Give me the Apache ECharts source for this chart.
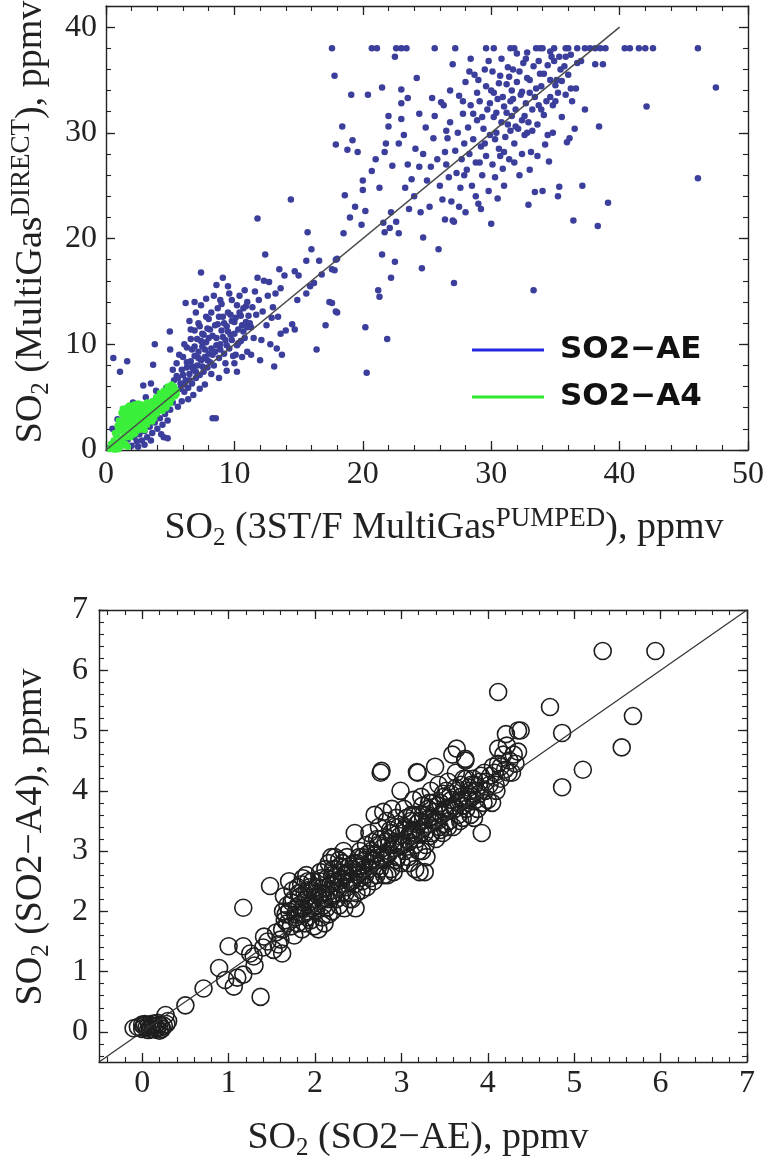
<!DOCTYPE html>
<html><head><meta charset="utf-8">
<script src="https://cdn.jsdelivr.net/npm/echarts@6/dist/echarts.min.js"></script>
<style>html,body{margin:0;padding:0;background:#fff}#c{width:767px;height:1160px}</style>
</head><body><div id="c"></div>
<script>
// ---------- tick labels ----------
const topXTicks = [0, 10, 20, 30, 40, 50];
const topYTicks = [0, 10, 20, 30, 40];
const botTicks = [0, 1, 2, 3, 4, 5, 6, 7];
const legendNames = ['SO2−AE', 'SO2−A4'];

// ---------- top panel: SO2 (MultiGas DIRECT) vs SO2 (3ST/F MultiGas PUMPED) ----------
const blueAE = [
[0.3,0.2],[0.5,0.4],[0.8,0.3],[1.0,0.6],[1.2,0.9],[1.5,0.5],[1.7,1.0],[2.0,0.4],[2.2,1.2],[2.4,0.8],[2.6,1.5],[2.8,0.9],[3.0,1.8],[3.2,1.2],[3.4,2.2],[3.6,1.6],[3.8,2.6],[4.0,2.0],[4.2,3.0],[4.4,2.4],[4.6,3.4],[4.8,2.8],[5.0,3.8],[3.0,0.5],[3.5,0.9],[2.5,0.3],[4.5,1.2],[4.8,1.1],[1.2,2.2],[0.8,1.5],[0.5,2.0],[0.9,2.9],[1.3,3.4],[1.8,3.9],[2.1,4.5],[2.5,3.5],[3.1,5.0],[3.5,6.3],[3.9,5.6],[4.2,5.2],[4.5,4.3],[4.7,5.9],[2.9,6.1],[0.57,8.7],[1.65,8.4],[1.09,7.4],[3.8,10.0],[3.67,8.06],[4.3,1.5],[3.9,3.3],[4.1,4.6],[4.9,4.9],[5.2,4.5],[5.4,5.3],[5.6,4.1],[5.8,5.8],[5.3,6.6],[5.5,7.0],[5.1,6.0],[4.97,11.2],[5.0,9.5],
[5.8,6.3],[6.0,7.1],[6.1,5.5],[6.2,6.6],[6.3,7.8],[6.4,5.9],[6.5,7.2],[6.6,8.4],[6.7,6.3],[6.8,7.6],[6.9,8.9],[7.0,6.8],[7.1,8.0],[7.2,9.3],[7.3,7.1],[7.4,8.5],[7.5,9.8],[7.6,7.4],[7.7,8.8],[7.8,10.2],[7.9,7.8],[8.0,9.1],[6.0,8.8],[6.3,9.7],[6.6,10.5],[6.9,11.3],[7.2,12.0],[7.5,11.0],[7.8,12.6],[6.5,12.2],[7.0,13.0],[6.2,13.9],[7.4,16.8],[6.8,5.2],[7.3,5.8],[7.7,6.2],[6.4,4.8],[5.9,4.6],[7.1,10.5],[7.6,10.9],[6.7,9.5],[7.9,11.5],[8.0,12.4],[5.5,8.2],[5.7,9.0],[6.1,10.0],[5.2,7.6],[7.4,13.7],[7.8,14.3],[6.9,14.0],
[5.6,6.8],[5.9,7.6],[6.1,6.2],[6.3,8.3],[6.5,6.6],[6.7,7.9],[6.9,9.8],[7.0,7.4],[7.2,8.7],[7.4,10.3],[7.5,7.9],[7.7,9.5],[7.9,8.5],[8.0,10.6],[8.1,11.4],[8.3,9.0],[8.5,11.8],[8.6,9.9],[8.8,12.6],[8.9,9.5],[9.1,10.7],[9.2,12.0],[9.4,9.9],[9.5,11.2],[9.7,12.8],[9.8,10.4],[10.0,12.1],[10.2,13.7],[10.3,10.1],[10.5,12.7],[10.7,11.2],[10.9,13.6],[11.1,12.7],[11.3,11.6],[6.6,11.4],[7.3,11.7],[8.2,13.0],[8.9,14.2],[9.5,15.5],[10.1,9.0],
[8.1,8.3],[8.2,9.6],[8.3,10.8],[8.4,8.0],[8.5,9.3],[8.6,10.6],[8.7,11.9],[8.8,8.7],[8.9,10.0],[9.0,11.3],[9.1,12.6],[9.2,9.1],[9.3,10.4],[9.4,11.7],[9.5,13.0],[9.6,9.6],[9.7,10.9],[9.8,12.2],[9.9,8.9],[10.0,11.0],[10.1,12.5],[10.2,9.9],[10.3,11.4],[10.4,13.0],[10.5,10.3],[10.6,11.8],[10.7,13.4],[10.8,10.6],[10.9,12.1],[11.0,14.0],[8.3,3.0],[8.55,3.0],[8.4,14.6],[8.6,15.6],[9.1,16.3],[9.6,14.8],[8.8,6.8],[9.4,7.5],[10.0,8.2],[10.6,8.8],[11.0,9.3],[8.2,7.2],[9.0,13.8],[9.8,14.2],[10.4,14.6],[11.0,11.6],[10.8,15.1],[9.3,8.2],[8.7,13.4],[10.2,7.4],
[11.2,12.0],[11.4,13.5],[11.5,10.6],[11.7,12.8],[11.8,16.3],[11.9,14.2],[12.1,10.4],[12.2,13.1],[12.4,18.5],[12.5,11.8],[12.6,14.6],[12.7,15.9],[12.9,12.5],[13.1,7.9],[13.2,14.8],[13.3,9.6],[13.5,17.1],[13.6,11.0],[13.7,9.0],[13.6,15.3],[13.9,16.5],[14.0,11.3],[11.8,21.9],[11.3,9.0],[12.0,8.5],[12.8,10.0],[13.0,13.5],[11.6,15.0],[12.3,16.0],[13.4,12.6],
[14.4,23.7],[14.5,11.9],[14.7,11.4],[14.7,16.9],[14.9,14.2],[15.6,17.9],[15.7,20.6],[15.6,14.8],[15.9,15.5],[16.2,15.8],[16.4,9.5],[16.6,17.9],[16.8,16.6],[17.1,11.8],[17.4,14.0],[17.6,17.1],[17.9,18.0],[17.9,13.1],[17.8,17.0],[17.6,13.9],[18.0,13.0],[18.0,18.1],[17.6,38.0],[17.8,35.4],[18.4,30.6],[17.9,28.9],[15.0,16.5],[16.0,19.0],
[18.6,24.1],[18.8,28.4],[19.1,33.6],[19.2,29.3],[19.4,23.0],[19.6,28.2],[19.9,21.3],[20.0,24.6],[20.2,22.6],[20.2,11.6],[20.3,7.3],[20.4,33.6],[20.7,26.4],[20.7,38.0],[21.1,38.0],[21.2,15.1],[21.3,24.8],[21.3,14.5],[21.5,34.3],[21.5,18.5],[21.7,20.6],[21.7,28.2],[21.9,10.5],[22.0,31.6],[22.0,30.6],[22.1,21.0],[22.2,22.5],[22.2,16.3],[22.3,26.9],[21.6,21.5],[20.0,25.5],[19.0,22.0],[18.5,20.5],[21.0,27.5],[21.8,29.0],
[22.5,37.2],[22.5,17.8],[22.6,38.0],[22.6,21.6],[22.8,20.5],[22.8,29.0],[23.0,34.1],[23.0,32.8],[23.0,31.3],[23.0,38.0],[23.2,29.8],[23.3,24.8],[23.4,38.0],[23.5,33.3],[23.6,22.8],[24.1,28.5],[24.2,35.2],[24.4,31.8],[24.4,26.8],[24.6,17.2],[24.7,28.0],[24.7,20.1],[24.5,22.5],[25.2,23.0],[25.3,26.8],[25.4,33.3],[25.6,31.6],[25.6,38.0],[25.9,19.0],[26.1,32.9],[26.2,23.7],[25.0,25.5],[25.8,27.5],[24.0,24.0],[23.8,25.6],[25.5,29.5],[24.9,30.5],[26.0,25.0],[23.5,27.0],
[26.3,32.6],[26.4,21.8],[26.5,27.0],[26.6,29.5],[26.7,25.8],[26.8,31.0],[26.9,23.5],[27.0,21.7],[27.1,15.8],[27.1,21.6],[27.2,38.0],[27.2,28.3],[27.3,26.2],[27.4,30.0],[27.5,33.5],[27.6,24.8],[27.7,27.5],[27.8,31.8],[27.9,29.0],[28.0,22.5],[28.0,34.8],[28.1,26.5],[28.2,30.5],[28.3,28.0],[28.4,32.6],[28.5,25.0],[28.6,29.4],[28.7,35.5],[28.8,27.2],[28.9,31.2],[29.0,23.3],[29.1,33.0],[29.2,28.7],[29.2,22.8],[29.3,26.0],[29.4,30.4],[29.5,36.0],[29.6,38.0],[29.6,27.8],[29.7,32.2],[29.8,24.5],[29.9,29.8],[30.0,21.4],[30.0,34.0],[30.2,38.0],[30.1,27.0],[30.2,31.5],[30.3,25.8],[27.0,36.5],[28.4,37.0],[26.8,34.0],[29.0,35.0],[27.5,23.0],[28.8,24.0],[29.8,36.8],[26.5,30.2],
[27.8,33.0],[28.3,35.8],[28.9,33.8],[29.3,31.5],[29.6,34.4],[29.9,32.8],[30.1,35.8],[30.4,31.9],[30.6,34.7],[30.9,33.4],[31.2,31.9],[31.4,35.3],[31.7,33.2],[31.9,30.6],[32.2,35.8],[32.4,33.9],[32.6,31.6],[32.8,37.6],[33.0,35.0],[33.2,30.2],[33.4,33.4],[33.7,36.8],[33.9,34.4],[34.1,31.7],[34.4,36.4],[34.6,35.0],[34.9,36.8],[35.2,33.8],[35.5,34.9],[35.8,37.2],[29.5,29.0],[30.3,29.4],[31.0,28.2],[31.5,30.2],[32.8,30.0],[28.6,31.8],[29.1,27.2],[30.7,27.8],[27.9,26.0],[26.4,28.2],
[30.4,30.0],[30.5,33.2],[30.6,28.5],[30.7,35.4],[30.8,31.0],[30.9,26.6],[31.0,32.5],[31.1,29.6],[31.2,34.6],[31.3,30.8],[31.4,27.5],[31.5,38.0],[31.5,33.0],[31.6,31.6],[31.7,36.0],[31.8,38.0],[31.8,29.0],[31.9,32.2],[32.0,34.8],[32.1,30.4],[32.2,26.0],[32.3,33.6],[32.4,31.2],[32.5,36.6],[32.6,29.8],[32.7,32.8],[32.8,35.2],[32.9,23.2],[32.9,31.0],[33.0,33.8],[33.1,28.2],[33.2,32.2],[33.3,15.1],[33.3,36.3],[33.4,24.4],[33.5,38.0],[33.5,34.2],[33.6,30.8],[33.7,32.6],[33.8,38.0],[33.8,35.6],[33.9,32.2],[34.0,38.0],[34.0,24.5],[34.1,35.6],[34.2,28.9],[34.3,33.0],[34.4,29.8],[30.5,23.8],[31.0,25.0],[31.8,27.2],[32.4,28.0],[30.8,37.0],[31.3,36.2],[32.0,37.5],[32.7,37.0],[33.0,26.5],[33.6,27.8],[30.2,33.8],[31.6,34.0],
[34.5,27.3],[34.6,37.7],[34.6,33.4],[34.7,37.2],[34.8,32.6],[34.9,38.0],[35.0,34.5],[35.0,33.0],[35.1,35.0],[35.2,24.0],[35.3,24.9],[35.3,37.2],[35.7,36.3],[35.8,38.0],[35.8,33.6],[35.9,29.1],[36.0,38.0],[36.1,29.5],[36.2,37.4],[36.2,34.2],[36.4,21.7],[36.5,30.4],[36.6,34.2],[36.7,38.0],[36.7,36.6],[37.1,25.0],[37.3,38.0],[37.3,32.2],[37.7,38.0],[38.1,38.0],[38.1,36.5],[38.3,21.2],[38.4,30.6],[38.5,38.0],[38.7,36.5],[38.9,38.0],[39.1,23.4],[36.0,35.5],[35.5,31.5],[34.8,30.0],[35.4,36.0],[36.3,33.0],[37.0,36.8],
[40.4,38.0],[40.8,38.0],[41.5,38.0],[42.0,38.0],[42.1,32.5],[42.6,38.0],[46.1,38.0],[46.1,25.7],[47.5,34.3]
];

const greenA4 = [
[0.3,0.1],[0.5,0.3],[0.6,0.9],[0.7,0.2],[0.8,1.4],[0.9,0.6],[1.0,1.9],[0.4,0.6],[0.9,2.3],[0.7,1.6],[1.0,0.1],[0.6,0.05],[0.8,0.05],
[1.1,1.1],[1.15,2.6],[1.2,1.8],[1.25,0.9],[1.3,2.2],[1.35,3.0],[1.4,1.5],[1.45,2.7],[1.5,2.0],[1.55,3.3],[1.6,1.2],[1.65,2.5],[1.7,3.6],[1.75,1.8],[1.8,2.9],[1.85,3.8],[1.9,2.3],[1.95,3.2],[2.0,1.7],[1.3,0.4],[1.5,0.6],[1.7,0.3],[1.2,3.5],[1.4,3.8],[1.6,4.0],
[2.05,2.8],[2.1,3.6],[2.15,2.1],[2.2,3.1],[2.25,4.0],[2.3,2.5],[2.35,3.4],[2.4,4.2],[2.45,2.9],[2.5,3.7],[2.55,2.2],[2.6,3.2],[2.65,4.1],[2.7,2.7],[2.75,3.5],[2.8,4.3],[2.85,3.0],[2.9,3.9],[2.95,2.5],[3.0,3.4],[2.3,1.6],[2.6,1.9],[2.9,2.1],[2.2,4.3],[2.5,4.4],
[3.05,4.2],[3.1,3.0],[3.15,3.8],[3.2,4.5],[3.25,3.3],[3.3,4.0],[3.35,2.8],[3.4,3.6],[3.45,4.4],[3.5,3.2],[3.55,3.9],[3.6,4.6],[3.65,3.5],[3.7,4.2],[3.75,3.0],[3.8,3.8],[3.85,4.7],[3.9,4.1],[3.95,3.4],[4.0,4.4],[3.2,2.4],[3.6,2.7],[3.0,1.9],
[4.1,4.8],[4.2,3.9],[4.3,4.5],[4.4,5.1],[4.5,4.2],[4.6,4.9],[4.7,5.5],[4.8,4.5],[4.9,5.2],[5.0,5.8],[5.1,4.8],[5.2,5.4],[5.3,6.0],[5.4,5.1],[5.5,5.6],[4.4,3.7],[4.7,4.0],[5.0,4.4],
[1.0,2.8],[1.3,3.9],[1.5,3.6],[1.8,4.2],[2.0,4.0],[2.2,3.8],[2.4,3.6],[1.9,1.2],[2.2,1.5],[2.6,2.4],[2.8,2.0],[3.1,2.6],[3.4,3.1],[3.7,3.3],[4.0,3.6],[4.3,4.0],[4.6,4.4],[4.9,4.7],[5.2,5.0],[5.5,5.3],[4.5,5.6],[4.8,6.0],[5.1,6.2],[3.9,5.0],[4.2,5.4]
];

// ---------- bottom panel: SO2 (SO2-A4) vs SO2 (SO2-AE) ----------
const a4VsAe = [
[-0.1,0.06],[-0.05,0.08],[0,0.05],[0.02,0.1],[0.05,0.07],[0.08,0.12],[0.1,0.05],[0.12,0.09],[0.15,0.1],[0.17,0.06],[0.2,0.12],[0.22,0.08],[0.25,0.1],[0.03,0.13],[0.07,0.03],[0.13,0.14],[0.18,0.15],[0.23,0.05],[0.28,0.13],[0.3,0.18],[0.27,0.28],[0.1,0.1],[0.0,0.12],[0.14,0.04],[0.2,0.02],
[0.5,0.44],[0.71,0.72],[0.89,1.06],[0.96,0.86],[1.06,0.75],[1.17,0.95],[1.0,1.42],[1.17,1.42],[1.29,1.25],[1.37,0.58],[1.17,2.06],[1.48,2.42],[1.41,1.58],[1.52,1.36],[1.62,1.3],[1.6,1.53],[1.3,1.1],[1.1,0.9],[1.25,1.3],[1.45,1.5],[1.55,1.65],[1.4,1.4],
[1.65,1.85],[1.7,2.0],[1.72,1.75],[1.75,2.2],[1.78,1.9],[1.68,2.1],[1.8,2.4],[1.62,1.7],[1.7,2.5],[1.76,1.6],[1.8,1.8],[1.66,1.95],[1.74,2.35],[1.79,2.05],[1.64,2.25],
[1.82,2.1],[1.85,1.7],[1.88,2.3],[1.9,2.0],[1.92,2.5],[1.95,1.85],[1.98,2.2],[1.84,2.45],[1.87,1.95],[1.9,2.6],[1.93,2.15],[1.96,2.35],[1.99,1.75],[1.83,2.25],[1.86,2.55],[1.91,1.9],[1.94,2.4],[1.97,2.05],[2.0,2.3],[1.89,2.2],
[2.02,2.1],[2.05,2.5],[2.08,1.9],[2.1,2.3],[2.12,2.7],[2.15,2.2],[2.18,2.45],[2.2,2.0],[2.03,2.4],[2.06,2.65],[2.09,2.2],[2.11,1.8],[2.14,2.55],[2.17,2.35],[2.19,2.9],[2.04,1.7],[2.13,2.05],[2.16,2.8],[2.07,2.3],[2.2,2.6],
[2.22,2.3],[2.25,2.6],[2.28,2.1],[2.3,2.45],[2.32,2.8],[2.35,2.3],[2.38,2.65],[2.4,2.2],[2.23,2.9],[2.26,2.4],[2.29,2.75],[2.31,2.55],[2.34,2.05],[2.37,2.9],[2.39,2.5],[2.24,2.2],[2.33,3.0],[2.36,2.6],[2.27,2.5],[2.21,2.7],
[2.42,2.5],[2.45,2.8],[2.48,2.3],[2.5,2.65],[2.52,3.0],[2.55,2.5],[2.58,2.85],[2.6,2.4],[2.43,2.2],[2.46,3.3],[2.49,2.6],[2.51,2.9],[2.54,2.35],[2.57,2.7],[2.59,3.1],[2.44,2.7],[2.47,2.05],[2.53,2.75],
[2.62,2.7],[2.65,3.0],[2.68,2.5],[2.7,2.85],[2.72,3.2],[2.75,2.7],[2.78,3.05],[2.8,2.6],[2.63,3.3],[2.66,2.85],[2.69,3.6],[2.71,2.6],[2.74,3.4],[2.77,2.9],[2.79,3.65],[2.64,2.55],[2.76,4.3],[2.73,3.1],
[2.82,2.9],[2.85,3.2],[2.88,2.7],[2.9,3.05],[2.92,3.4],[2.95,2.9],[2.98,3.25],[3.0,2.8],[2.83,3.5],[2.86,3.0],[2.89,3.7],[2.91,2.65],[2.94,3.55],[2.97,3.1],[2.99,4.0],[2.84,2.6],[2.87,3.35],[2.93,3.15],
[3.02,3.1],[3.05,3.4],[3.08,2.9],[3.1,3.25],[3.12,3.6],[3.15,3.1],[3.18,3.45],[3.2,3.0],[3.03,3.7],[3.06,3.2],[3.09,2.8],[3.11,3.5],[3.14,3.85],[3.17,3.3],[3.19,4.3],[3.04,3.0],[3.16,2.7],[3.21,2.65],[3.13,3.35],
[3.22,3.3],[3.25,3.6],[3.28,3.1],[3.3,3.45],[3.32,3.8],[3.35,3.3],[3.38,3.65],[3.4,3.2],[3.23,3.9],[3.26,3.4],[3.29,2.9],[3.31,3.7],[3.34,4.0],[3.37,3.5],[3.39,4.4],[3.24,3.0],[3.27,2.65],[3.33,3.55],
[3.42,3.5],[3.45,3.8],[3.48,3.3],[3.5,3.65],[3.52,4.0],[3.55,3.5],[3.58,3.85],[3.6,3.4],[3.43,4.1],[3.46,3.6],[3.49,3.9],[3.51,3.45],[3.54,4.15],[3.57,3.7],[3.59,4.6],[3.44,3.4],
[3.62,3.7],[3.65,4.0],[3.68,3.5],[3.7,3.85],[3.72,4.2],[3.75,3.7],[3.78,4.05],[3.8,3.6],[3.63,4.3],[3.66,3.8],[3.69,4.1],[3.71,3.55],[3.74,4.5],[3.77,3.9],[3.79,4.0],[3.64,4.7],
[3.82,3.9],[3.85,4.1],[3.88,3.7],[3.9,3.95],[3.92,4.25],[3.95,3.8],[3.98,4.15],[4.0,3.85],[3.84,3.55],[3.87,4.0],[3.93,3.3],[3.96,4.3],[3.83,4.2],
[4.02,4.1],[4.05,3.8],[4.08,4.3],[4.1,4.0],[4.12,4.45],[4.15,4.2],[4.18,4.6],[4.2,4.35],[4.22,4.75],[4.25,4.5],[4.28,4.3],[4.3,4.6],[4.35,4.65],[4.38,5.0],[4.12,4.7],[4.06,4.4],
[1.68,1.8],[1.73,2.15],[1.77,1.95],[1.81,2.3],[1.86,2.05],[1.88,1.8],[1.91,2.35],[1.95,2.1],[1.97,2.5],[2.01,2.0],[2.04,2.25],[2.07,2.55],[2.1,2.1],[2.13,2.4],[2.16,1.95],[2.19,2.25],[2.22,2.5],[2.25,2.2],[2.28,2.85],[2.31,2.3],[2.34,2.6],[2.37,2.4],[2.4,2.75],[2.43,2.5],[2.46,2.45],[2.49,2.8],[2.52,2.55],[2.55,2.9],[2.58,2.6],[2.61,2.95],[2.64,2.8],[2.67,3.15],[2.7,2.95],[2.73,2.75],[2.76,3.2],[2.79,2.85],[2.82,3.15],[2.85,2.95],[2.88,3.3],[2.91,3.1],[2.94,2.85],[2.97,3.4],[3.0,3.1],[3.03,3.35],[3.06,3.55],[3.09,3.15],[3.12,3.3],[3.15,3.6],[3.18,3.2],[3.21,3.5],[3.24,3.75],[3.27,3.3],[3.3,3.6],[3.33,3.25],[3.36,3.8],[3.39,3.5],[3.42,3.75],[3.45,3.35],[3.48,3.95],[3.51,3.7],[3.54,3.4],[3.57,3.95],[3.6,3.75],[3.63,4.05],[3.66,3.6],[3.69,3.9],[3.72,3.75],[3.75,4.2],[3.78,3.85],[3.81,4.1],[3.86,3.85],[3.91,4.15],[3.97,4.0],[4.03,4.25],[4.09,4.1],[4.15,4.4],[4.24,4.3],[4.32,4.45],[1.58,1.45],[1.63,2.0],
[4.12,5.64],[4.72,5.39],[4.86,4.96],[4.86,4.06],[5.1,4.35],[5.55,4.72],[5.68,5.24],[5.33,6.32],[5.94,6.32],[4.21,4.94],[4.35,5.0],[3.74,4.53],[2.77,4.33],[3.18,4.31]
];

// 1:1 reference lines
const topLine = [[0, 0], [40, 40]];
const botLine = [[-0.5, -0.5], [7, 7]];

function steps(a, b, s) {
  const r = []; const n = Math.round((b - a) / s);
  for (let i = 0; i <= n; i++) r.push(+(a + i * s).toFixed(4));
  return r;
}
const serif = '"Liberation Serif","Times New Roman",serif';
const ink = '#222';

function axisSet(kind, grid, min, max, majors, minors, labelMargin) {
  const pos = kind === 'x' ? ['bottom', 'top'] : ['left', 'right'];
  const base = { type: 'value', gridIndex: grid, min: min, max: max, splitLine: { show: false }, silent: true };
  const line = { show: true, onZero: false, lineStyle: { color: ink, width: 1.4 } };
  const noLine = { show: false, onZero: false };
  const maj = { show: true, inside: true, length: 9, customValues: majors, lineStyle: { color: ink, width: 1.3 } };
  const mnr = { show: true, inside: true, length: 5, customValues: minors, lineStyle: { color: ink, width: 1.1 } };
  return [
    Object.assign({}, base, { position: pos[0], axisLine: line, axisTick: maj,
      axisLabel: { show: true, customValues: majors, margin: labelMargin, fontFamily: serif, fontSize: 32, color: ink } }),
    Object.assign({}, base, { position: pos[0], axisLine: noLine, axisTick: mnr, axisLabel: { show: false } }),
    Object.assign({}, base, { position: pos[1], axisLine: line, axisTick: maj, axisLabel: { show: false } }),
    Object.assign({}, base, { position: pos[1], axisLine: noLine, axisTick: mnr, axisLabel: { show: false } })
  ];
}

const rich = {
  a: { fontFamily: serif, fontSize: 38, lineHeight: 46, color: ink },
  s: { fontFamily: serif, fontSize: 25, lineHeight: 25, verticalAlign: 'bottom', color: ink },
  p: { fontFamily: serif, fontSize: 27, lineHeight: 27, verticalAlign: 'top', color: ink }
};
function title(x, y, text, rot) {
  return { type: 'text', x: x, y: y, rotation: rot || 0, silent: true,
    style: { text: text, rich: rich, fontFamily: serif, fontSize: 38, fill: ink,
      align: 'center', verticalAlign: 'middle' } };
}

const chart = echarts.init(document.getElementById('c'));
chart.setOption({
  animation: false,
  backgroundColor: '#fff',
  grid: [
    { left: 106, top: 6, width: 644, height: 444 },
    { left: 99, top: 610, width: 648, height: 452 }
  ],
  xAxis: [].concat(
    axisSet('x', 0, 0, 50, topXTicks, steps(0, 50, 2), 9),
    axisSet('x', 1, -0.5, 7, botTicks, steps(-0.4, 7, 0.2), 6)
  ),
  yAxis: [].concat(
    axisSet('y', 0, 0, 42, topYTicks, steps(0, 42, 2), 9),
    axisSet('y', 1, -0.5, 7, botTicks, steps(-0.4, 7, 0.2), 11)
  ),
  legend: {
    data: [
      { name: legendNames[0], icon: 'rect', itemStyle: { color: '#2428e0', borderWidth: 0 } },
      { name: legendNames[1], icon: 'rect', itemStyle: { color: '#2ee82e', borderWidth: 0 } }
    ],
    orient: 'vertical', left: 467, top: 328, itemWidth: 72, itemHeight: 3, itemGap: 13,
    selectedMode: false,
    textStyle: { fontFamily: '"DejaVu Sans"', fontWeight: 'bold', fontSize: 31, color: '#111', lineHeight: 34, padding: [0, 0, 0, 11] }
  },
  graphic: [
    title(444, 528, '{a|SO}{s|2}{a| (3ST/F MultiGas}{p|PUMPED}{a|), ppmv}'),
    title(31, 222, '{a|SO}{s|2}{a| (MultiGas}{p|DIRECT}{a|), ppmv}', Math.PI / 2),
    title(418, 1138, '{a|SO}{s|2}{a| (SO2−AE), ppmv}'),
    title(31, 837, '{a|SO}{s|2}{a| (SO2−A4), ppmv}', Math.PI / 2)
  ],
  series: [
    { name: legendNames[0], type: 'scatter', xAxisIndex: 0, yAxisIndex: 0, data: blueAE,
      symbolSize: 6.5, itemStyle: { color: '#3b3e9b', opacity: 1 }, z: 2 },
    { name: legendNames[1], type: 'scatter', xAxisIndex: 0, yAxisIndex: 0, data: greenA4,
      symbolSize: 6.5, itemStyle: { color: '#3bef3b', opacity: 1 }, z: 3 },
    { name: 'ref1', type: 'line', xAxisIndex: 0, yAxisIndex: 0, data: topLine, showSymbol: false,
      lineStyle: { color: '#4a4a4a', width: 1.5 }, z: 4, silent: true },
    { name: 'A4 vs AE', type: 'scatter', xAxisIndex: 4, yAxisIndex: 4, data: a4VsAe,
      symbol: 'circle', symbolSize: 17,
      itemStyle: { color: 'rgba(0,0,0,0)', borderColor: '#1e1e1e', borderWidth: 1.6, opacity: 1 }, z: 2 },
    { name: 'ref2', type: 'line', xAxisIndex: 4, yAxisIndex: 4, data: botLine, showSymbol: false,
      lineStyle: { color: '#333', width: 1.2 }, z: 4, silent: true }
  ]
});
</script>
</body></html>
